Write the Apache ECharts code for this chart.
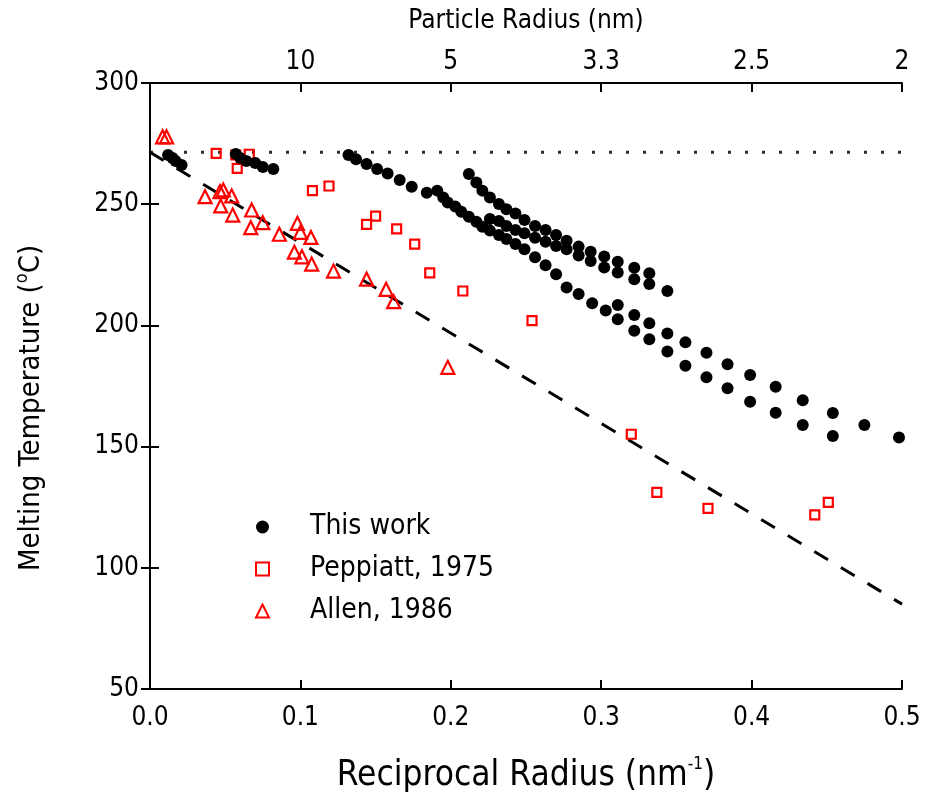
<!DOCTYPE html>
<html><head><meta charset="utf-8">
<script src="https://cdn.jsdelivr.net/npm/echarts@6/dist/echarts.min.js"></script>
<style>html,body{margin:0;padding:0;background:#fff}#c{width:927px;height:799px}</style>
</head><body><div id="c"></div>
<script>
// Reciprocal radius (nm^-1), melting temperature (°C)
const thisWork = [
  [0.012,270.3],[0.015,269.1],[0.017,267.8],[0.021,266.2],
  [0.057,270.7],[0.060,269.1],[0.064,267.8],[0.070,267.0],[0.075,265.3],[0.082,264.5],
  [0.132,270.3],[0.137,268.5],[0.144,266.6],[0.151,264.5],[0.158,262.7],[0.166,260.0],[0.174,257.2],[0.184,254.7],
  [0.191,255.6],[0.195,252.8],[0.198,250.7],[0.203,249.0],[0.207,246.9],[0.212,244.8],[0.217,242.8],[0.221,240.7],
  [0.226,239.1],[0.232,237.3],[0.237,235.6],[0.243,233.6],[0.249,231.4],[0.256,228.1],[0.263,224.8],[0.270,221.1],
  [0.277,215.6],[0.285,213.0],[0.294,209.1],[0.303,206.1],[0.311,202.5],[0.322,197.8],[0.332,194.3],[0.344,189.2],
  [0.356,183.4],[0.370,178.6],[0.384,174.1],[0.399,168.5],[0.416,164.0],[0.434,158.9],[0.454,154.4],
  [0.311,208.4],[0.322,204.3],[0.332,200.9],[0.344,196.7],[0.356,193.0],[0.370,188.7],[0.384,184.0],[0.399,179.5],
  [0.416,174.7],[0.434,169.1],[0.454,163.9],[0.475,158.9],[0.498,153.8],
  [0.212,262.5],[0.217,259.0],[0.221,255.6],[0.226,252.8],[0.232,250.1],[0.237,247.9],[0.243,246.2],[0.249,243.5],
  [0.256,241.0],[0.263,239.4],[0.270,237.3],[0.277,234.9],[0.285,232.5],[0.293,230.4],[0.302,228.4],[0.311,226.3],
  [0.322,223.8],[0.332,221.5],
  [0.226,243.9],[0.232,243.1],[0.237,241.0],[0.243,239.4],[0.249,238.0],[0.256,236.2],[0.263,234.5],[0.270,232.8],
  [0.277,231.4],[0.285,228.8],[0.293,226.6],[0.302,223.9],[0.311,221.8],[0.322,219.0],[0.332,217.1],[0.344,214.2]
];
const peppiatt = [
  [0.044,271.0],[0.057,270.3],[0.066,270.6],[0.058,264.8],[0.108,255.6],[0.119,257.5],[0.144,241.7],[0.150,245.1],
  [0.164,239.8],[0.176,233.5],[0.186,221.7],[0.208,214.2],[0.254,202.0],[0.320,155.1],[0.337,131.1],[0.371,124.5],
  [0.442,121.8],[0.451,127.0]
];
const allen = [
  [0.0084,277.8],[0.011,277.8],[0.0366,253.1],[0.0465,255.2],[0.0487,255.9],[0.0543,253.4],[0.047,249.3],[0.055,245.5],
  [0.0676,247.6],[0.067,240.3],[0.075,242.4],[0.086,237.6],[0.098,242.1],[0.100,238.4],[0.107,236.3],[0.096,230.2],
  [0.101,228.3],[0.1075,225.3],[0.122,222.4],[0.144,219.1],[0.157,214.9],[0.162,209.8],[0.198,182.7]
];
const bulkLine = [[0,271.4],[0.5,271.4]];
const fitLine = [[0,271.4],[0.5,85]];
const xTickValues = [0,0.1,0.2,0.3,0.4,0.5];
const topTickLabels = ['','10','5','3.3','2.5','2'];
const legendNames = ['This work','Peppiatt, 1975','Allen, 1986'];

const FF = "'DejaVu Sans Condensed', 'DejaVu Sans', sans-serif";
const axisLineStyle = {color:'#000', width:2};
const tickStyle = {inside:true, length:9, lineStyle:{color:'#000', width:2}};

const chart = echarts.init(document.getElementById('c'), null, {renderer:'canvas'});
chart.setOption({
  animation:false,
  backgroundColor:'#fff',
  grid:{left:150, right:25, top:83, bottom:110, containLabel:false},
  legend:{
    data:legendNames, orient:'vertical', left:250, top:508, itemGap:14,
    itemWidth:13, itemHeight:13,
    textStyle:{fontSize:28, fontFamily:FF, color:'#000', padding:[0,0,0,36]}
  },
  xAxis:[
    {type:'value', min:0, max:0.5, interval:0.1, position:'bottom',
     axisLine:{lineStyle:axisLineStyle}, axisTick:tickStyle, splitLine:{show:false},
     axisLabel:{formatter:v=>v.toFixed(1), fontSize:26, fontFamily:FF, color:'#000', margin:16},
     name:'{a|Reciprocal Radius (nm}{s|-1}{a|)}', nameLocation:'middle', nameGap:67,
     nameTextStyle:{rich:{a:{fontSize:35, fontFamily:FF, color:'#000', lineHeight:40},
                          s:{fontSize:17, fontFamily:FF, color:'#000', verticalAlign:'top', lineHeight:40}}}},
    {type:'value', min:0, max:0.5, interval:0.1, position:'top',
     axisLine:{lineStyle:axisLineStyle}, axisTick:tickStyle, splitLine:{show:false},
     axisLabel:{formatter:v=>topTickLabels[xTickValues.findIndex(t=>Math.abs(t-v)<1e-6)]||'',
                fontSize:26, fontFamily:FF, color:'#000', margin:8},
     name:'Particle Radius (nm)', nameLocation:'middle', nameGap:49,
     nameTextStyle:{fontSize:26, fontFamily:FF, color:'#000'}}
  ],
  yAxis:[
    {type:'value', min:50, max:300, interval:50, position:'left',
     axisLine:{lineStyle:axisLineStyle}, axisTick:tickStyle, splitLine:{show:false},
     axisLabel:{fontSize:26, fontFamily:FF, color:'#000', margin:11},
     name:'{a|Melting Temperature (}{s|o}{a|C)}', nameLocation:'middle', nameGap:101, nameRotate:90,
     nameTextStyle:{padding:[0,44,0,0],
                    rich:{a:{fontSize:29, fontFamily:FF, color:'#000', lineHeight:36},
                          s:{fontSize:18, fontFamily:FF, color:'#000', verticalAlign:'top', lineHeight:36}}}},
    {type:'value', min:50, max:300, interval:50, position:'right',
     axisLine:{lineStyle:axisLineStyle}, axisTick:tickStyle, splitLine:{show:false},
     axisLabel:{show:false}}
  ],
  series:[
    {type:'line', name:'bulk', data:bulkLine, symbol:'none', silent:true, z:1,
     lineStyle:{color:'#2b2b1e', width:3, type:[3,14]}},
    {type:'line', name:'fit', data:fitLine, symbol:'none', silent:true, z:1,
     lineStyle:{color:'#000', width:3, type:[16,15]}},
    {type:'scatter', name:legendNames[0], data:thisWork, symbol:'circle', symbolSize:12, z:5,
     itemStyle:{color:'#000', opacity:1}},
    {type:'scatter', name:legendNames[1], data:peppiatt, symbol:'rect', symbolSize:9, z:4,
     itemStyle:{color:'rgba(255,255,255,0)', borderColor:'#ff0000', borderWidth:2.2, opacity:1}},
    {type:'scatter', name:legendNames[2], data:allen, symbol:'triangle', symbolSize:13, z:4,
     itemStyle:{color:'rgba(255,255,255,0)', borderColor:'#ff0000', borderWidth:2.2, opacity:1}}
  ]
});
</script></body></html>
